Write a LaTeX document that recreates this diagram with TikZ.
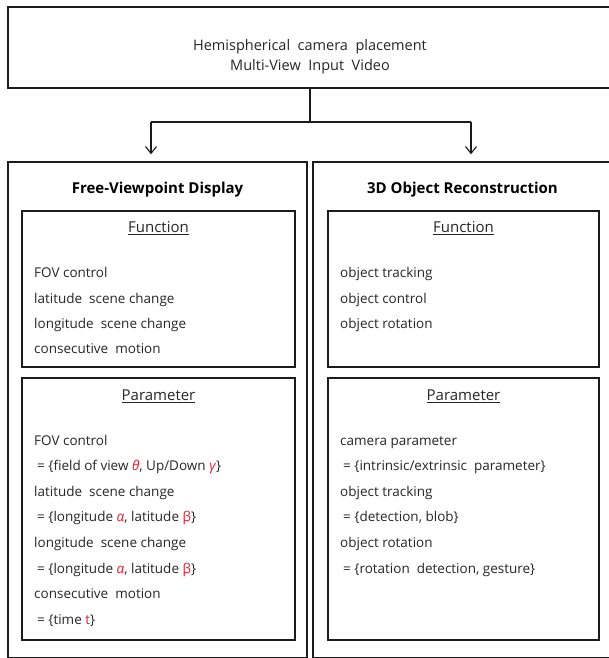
\documentclass[tikz,border=0pt]{standalone}
\usepackage{fontspec}
\setmainfont{Open Sans}
\usetikzlibrary{arrows.meta}
\definecolor{linec}{RGB}{28,28,28}
\definecolor{greekc}{RGB}{225,30,45}
\newcommand{\grk}[1]{\textcolor{greekc}{#1}}
\begin{document}
\begin{tikzpicture}[x=1pt,y=-1pt,
  frame/.style={draw=linec, line width=1.3pt, inner sep=0pt},
  txt/.style={anchor=base west, inner sep=0pt, font=\fontsize{13.5}{15}\selectfont, text=black!85},
  head/.style={anchor=base, inner sep=0pt, font=\fontsize{15}{17}\selectfont, text=black!85},
  toptxt/.style={anchor=base, inner sep=0pt, font=\fontsize{14.5}{17}\selectfont, text=black!85},
  title/.style={anchor=base, inner sep=0pt, font=\fontsize{15}{17}\selectfont\bfseries, text=black},
  conn/.style={draw=linec, line width=1.3pt},
  arr/.style={conn, -{Straight Barb[length=7pt,width=11pt,line width=1.1pt]}, shorten >=7pt}]
\useasboundingbox (0,0) rectangle (608,658);
% boxes
\node[frame, minimum width=604pt, minimum height=81pt] (top) at (310,47.5) {};
\node[frame, minimum width=299pt, minimum height=495.5pt] (lout) at (157.5,409.75) {};
\node[frame, minimum width=299pt, minimum height=495.5pt] (rout) at (462.5,409.75) {};
\node[frame, minimum width=273pt, minimum height=156pt] (lfun) at (158.5,289) {};
\node[frame, minimum width=271pt, minimum height=156pt] (rfun) at (463.5,289) {};
\node[frame, minimum width=273pt, minimum height=262pt] (lpar) at (158.5,509) {};
\node[frame, minimum width=271pt, minimum height=262pt] (rpar) at (463.5,509) {};
% top text
\node[toptxt] (t1) at (310,51) {Hemispherical\ \ camera\ \ placement};
\node[toptxt] (t2) at (310,71) {Multi-View\ \ Input\ \ Video};
% connectors
\coordinate (split) at (310,122);
\coordinate (jl) at (151,122);
\coordinate (jr) at (471,122);
\draw[conn] (top.south) -- (split);
\draw[conn] (jl) -- (jr);
\draw[arr] (jl) -- (jl |- lout.north);
\draw[arr] (jr) -- (jr |- rout.north);
% titles
\node[title] (ltitle) at (157.5,193.5) {Free-Viewpoint Display};
\node[title] (rtitle) at (462.5,193.5) {3D Object Reconstruction};
% function headings
\node[head] (lfh) at (158.5,232.5) {\underline{Function}};
\node[head] (rfh) at (463.5,232.5) {\underline{Function}};
% left function items
\node[txt] (lf1) at (34,277) {FOV control};
\node[txt] (lf2) at (34,303) {latitude\ \ scene change};
\node[txt] (lf3) at (34,328) {longitude\ \ scene change};
\node[txt] (lf4) at (34,353) {consecutive\ \ motion};
% right function items
\node[txt] (rf1) at (340,277) {object tracking};
\node[txt] (rf2) at (340,303) {object control};
\node[txt] (rf3) at (340,328) {object rotation};
% parameter headings
\node[head] (lph) at (158.5,400.5) {\underline{Parameter}};
\node[head] (rph) at (463.5,400.5) {\underline{Parameter}};
% left parameter items
\node[txt] (lp1) at (34,445) {FOV control};
\node[txt] (lp2) at (37,470.6) {= \{field of view \grk{\textit{θ}}, Up/Down \grk{\textit{γ}}\}};
\node[txt] (lp3) at (34,496.2) {latitude\ \ scene change};
\node[txt] (lp4) at (37,521.8) {= \{longitude \grk{\textit{α}}, latitude \grk{β}\}};
\node[txt] (lp5) at (34,547.4) {longitude\ \ scene change};
\node[txt] (lp6) at (37,573) {= \{longitude \grk{\textit{α}}, latitude \grk{β}\}};
\node[txt] (lp7) at (34,598.6) {consecutive\ \ motion};
\node[txt] (lp8) at (37,624.2) {= \{time \grk{t}\}};
% right parameter items
\node[txt] (rp1) at (340,445) {camera parameter};
\node[txt] (rp2) at (343,470.6) {= \{intrinsic/extrinsic\ \ parameter\}};
\node[txt] (rp3) at (340,496.2) {object tracking};
\node[txt] (rp4) at (343,521.8) {= \{detection, blob\}};
\node[txt] (rp5) at (340,547.4) {object rotation};
\node[txt] (rp6) at (343,573) {= \{rotation\ \ detection, gesture\}};
\end{tikzpicture}
\end{document}
